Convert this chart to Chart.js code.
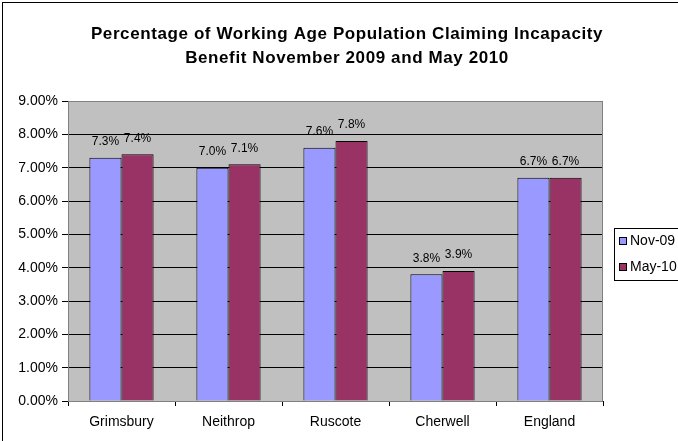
<!DOCTYPE html>
<html>
<head>
<meta charset="utf-8">
<script src="https://cdn.jsdelivr.net/npm/chart.js@4"></script>
<style>
html,body{margin:0;padding:0;background:#fff;}
#wrap{width:678px;height:441px;}
</style>
</head>
<body>
<div id="wrap"><canvas id="chart" width="678" height="441"></canvas></div>
<script>
const areas=["Grimsbury","Neithrop","Ruscote","Cherwell","England"];
const nov09=[7.3,7.0,7.6,3.8,6.7];
const may10=[7.4,7.1,7.8,3.9,6.7];
const seriesNames=["Nov-09","May-10"];
const titleLines=["Percentage of Working Age Population Claiming Incapacity","Benefit November 2009 and May 2010"];
const FONT="'Liberation Sans', Arial, sans-serif";

// frame, grey plot area, title, value labels and legend
const excelLook={
    id:"excelLook",
    beforeDraw:function(chart){
        const c=chart.ctx,a=chart.chartArea;
        c.save();
        c.fillStyle="#fff";
        c.fillRect(0,0,chart.width,chart.height);
        c.fillStyle="#c0c0c0";
        c.fillRect(a.left,a.top,a.right-a.left,a.bottom-a.top);
        c.restore();
    },
    afterDraw:function(chart){
        const c=chart.ctx,a=chart.chartArea;
        c.save();
        c.strokeStyle="#000";
        c.lineWidth=1;
        c.strokeRect(2.5,2.5,800,600);
        // plot border
        c.strokeStyle="#808080";
        c.strokeRect(a.left+0.5,a.top+0.5,a.right-a.left-1,a.bottom-a.top);
        // title
        c.fillStyle="#000";
        c.font="bold 17px "+FONT;
        c.letterSpacing="0.6px";
        c.textAlign="center";
        c.textBaseline="middle";
        c.fillText(titleLines[0],347,34);
        c.fillText(titleLines[1],347,58);
        c.letterSpacing="0px";
        // value labels
        c.font="12px "+FONT;
        chart.data.datasets.forEach(function(ds,i){
            chart.getDatasetMeta(i).data.forEach(function(bar,j){
                c.fillText(ds.data[j].toFixed(1)+"%",bar.x,bar.y-16);
            });
        });
        // legend
        c.fillStyle="#fff";
        c.fillRect(614,228,80,52);
        c.strokeStyle="#000";
        c.strokeRect(614.5,228.5,80,52);
        c.font="14px "+FONT;
        c.textAlign="left";
        chart.data.datasets.forEach(function(ds,i){
            const y=241+i*26;
            c.fillStyle=ds.backgroundColor;
            c.fillRect(619,y-4,8,8);
            c.strokeStyle="#000";
            c.strokeRect(619.5,y-3.5,7,7);
            c.fillStyle="#000";
            c.fillText(ds.label,630,y);
        });
        c.restore();
    }
};

new Chart(document.getElementById("chart"),{
    type:"bar",
    data:{
        labels:areas,
        datasets:[
            {label:seriesNames[0],data:nov09,backgroundColor:"#9999ff",borderColor:"#000",borderWidth:1,borderSkipped:"bottom"},
            {label:seriesNames[1],data:may10,backgroundColor:"#993366",borderColor:"#000",borderWidth:1,borderSkipped:"bottom"}
        ]
    },
    options:{
        responsive:false,
        animation:false,
        layout:{padding:{top:101,right:75,left:0,bottom:0}},
        categoryPercentage:0.6,
        barPercentage:1.0,
        plugins:{legend:{display:false},title:{display:false},tooltip:{enabled:false}},
        scales:{
            x:{
                grid:{display:true,drawOnChartArea:false,offset:true,color:"#000",tickLength:5},
                border:{color:"#000"},
                ticks:{color:"#000",font:{family:FONT,size:14},padding:8},
                afterFit:function(s){s.height=40;}
            },
            y:{
                min:0,max:9,
                grid:{color:"#000",tickLength:6},
                border:{color:"#000"},
                ticks:{stepSize:1,color:"#000",font:{family:FONT,size:14},padding:4,
                    callback:function(v){return v.toFixed(2)+"%";}},
                afterFit:function(s){s.width=68;}
            }
        }
    },
    plugins:[excelLook]
});
</script>
</body>
</html>
